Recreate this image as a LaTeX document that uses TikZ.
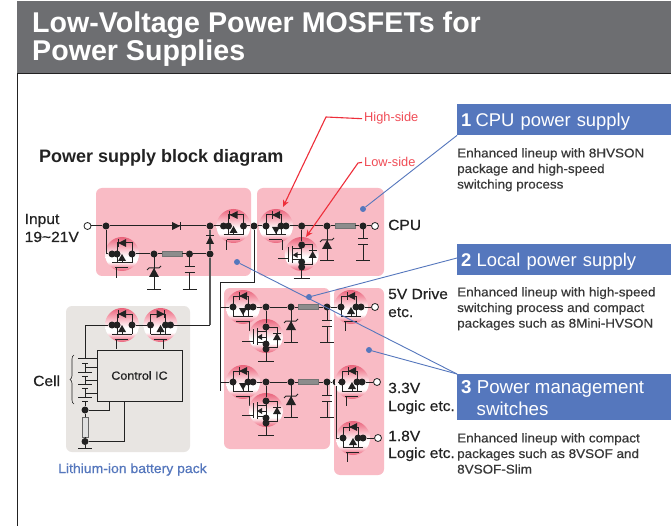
\documentclass[tikz,border=0pt]{standalone}
\usepackage{fontspec}
\setmainfont{Liberation Sans}
\newfontfamily\medfont[FakeBold=0.5,FakeStretch=1.06]{Liberation Sans}
\usetikzlibrary{arrows.meta, decorations.pathreplacing}
\definecolor{ink}{HTML}{222222}
\definecolor{panelpink}{HTML}{F9BBC5}
\definecolor{fetred}{HTML}{E9627A}
\definecolor{fetmid}{HTML}{F6A6B4}
\definecolor{fetpale}{HTML}{FCE0E5}
\definecolor{packgray}{HTML}{E8E5E2}
\definecolor{headgray}{HTML}{6D6E71}
\definecolor{tagblue}{HTML}{5577BD}
\definecolor{sidered}{HTML}{EE2E3A}
\pgfdeclareverticalshading{fetglow}{100bp}{color(0bp)=(fetred); color(25bp)=(fetred); color(32bp)=(fetmid); color(39bp)=(white); color(46bp)=(white); color(52bp)=(fetpale); color(62bp)=(fetmid); color(75bp)=(fetred); color(100bp)=(fetred)}
\tikzset{
  wire/.style={draw=ink, line width=1pt},
  rail/.style={draw=black!65, line width=1.1pt},
  panel/.style={fill=panelpink, rounded corners=6pt},
  dot/.style={circle, fill=ink, inner sep=0pt, minimum size=7pt},
  term/.style={circle, draw=ink, fill=white, line width=0.8pt, inner sep=0pt, minimum size=7pt},
  res/.style={rectangle, draw=black!55, fill=black!45, line width=0.6pt, inner sep=0pt, minimum width=20pt, minimum height=5pt},
  tagdot/.style={circle, fill=tagblue, inner sep=0pt, minimum size=6pt},
  leader/.style={draw=tagblue, line width=0.9pt},
  redline/.style={draw=sidered, line width=1.1pt, -{Stealth[length=7pt,width=6pt]}},
  headbox/.style={rectangle, fill=tagblue, text=white, anchor=north west, inner xsep=4pt, inner ysep=0pt, minimum width=214pt, text width=206pt, align=left},
  lbl/.style={inner sep=0pt, anchor=base west, text=ink, font=\medfont\fontsize{14.7}{18}\selectfont},
  desc/.style={inner sep=0pt, anchor=north west, text=ink!90, align=left, font=\medfont\fontsize{12.7}{15.6}\selectfont},
  % diode pointing right
  pics/dio/.style={code={
    \fill[ink] (-4,-4) -- (-4,4) -- (4,0) -- cycle;
    \draw[wire] (4,-4) -- (4,4);
  }},
  % #1 diode direction, #2 arrow direction, #3 gate leg, #4 side of the double dot
  pics/fet/.style n args={4}{code={
    \shade[shading=fetglow] (0,0) circle (17);
    \draw[wire] (#4*5,9) -- (#4*5,-11) -- (#4*-10,-11) -- (#4*-10,9);
    \fill[ink] (#1*4,-11) -- (#1*-4,-15) -- (#1*-4,-7) -- cycle;
    \draw[wire] (#1*4,-15) -- (#1*4,-7);
    \fill[ink] (0,{4-#2*4}) -- (-4,{4+#2*3}) -- (4,{4+#2*3}) -- cycle;
    \draw[wire] (0,4) -- (0,9);
    \draw[wire] (-10,9) -- (10,9);
    \draw[wire] (-7,14) -- (6,14);
    \draw[wire] (#3,14) -- (#3,24);
    \node[dot] (-w) at (-10,0) {};
    \node[dot] (-e) at (10,0) {};
    \node[dot] (-d) at (#4*5,0) {};
  }},
  pics/fetlow/.style={code={
    \shade[shading=fetglow] (0,0) circle (17);
    \draw[wire] (0,-9) -- (11,-9) -- (11,11) -- (0,11);
    \draw[wire] (0,-9) -- (0,25);
    \draw[wire] (-8,25) -- (8,25);
    \draw[wire] (-9,-8) -- (-9,9);
    \draw[wire] (-9,-5) -- (0,-5);
    \draw[wire] (-9,6) -- (0,6);
    \draw[wire] (-5,1) -- (0,1);
    \fill[ink] (-9,1) -- (-4,-2) -- (-4,4) -- cycle;
    \fill[ink] (11,-3) -- (7,4) -- (15,4) -- cycle;
    \draw[wire] (7,-3) -- (15,-3);
    \draw[wire] (-13,-7) -- (-13,8);
    \draw[wire] (-13,5) -- (-24,5);
    \node[dot] (-t) at (0,-9) {};
    \node[dot] at (0,8) {};
    \node[dot] (-b) at (0,13) {};
  }},
  pics/zenerleg/.style={code={
    \draw[wire] (0,0) -- (0,35);
    \draw[wire] (-7,35) -- (7,35);
    \fill[ink] (0,14) -- (-5,23) -- (5,23) -- cycle;
    \draw[wire] (-7,16) -- (-5,14) -- (5,14) -- (7,12);
  }},
  pics/capleg/.style={code={
    \draw[wire] (0,0) -- (0,13);
    \draw[wire] (-5,13) -- (5,13);
    \draw[wire] (-5,19) -- (5,19);
    \draw[wire] (0,19) -- (0,35);
    \draw[wire] (-7,35) -- (7,35);
  }},
}
\begin{document}
\begin{tikzpicture}[x=1pt, y=-1pt]
    \useasboundingbox (0,0) rectangle (671,526);
    \fill[white] (0,0) rectangle (671,526);

    % Header
    \fill[headgray] (17,1) rectangle (671,73);
    \draw[line width=0.8pt, draw=ink] (17,73) -- (671,73);
    \draw[line width=0.8pt, draw=ink] (17.5,73) -- (17.5,526);
    \node[inner sep=0pt, anchor=base west, text=white, font=\bfseries\fontsize{28.6}{28}\selectfont] (title1) at (32,33) {Low-Voltage Power MOSFETs for};
    \node[inner sep=0pt, anchor=base west, text=white, font=\bfseries\fontsize{28.6}{28}\selectfont] (title2) at (32,61) {Power Supplies};
    \node[inner sep=0pt, anchor=base west, text=ink, font=\bfseries\fontsize{18}{18}\selectfont] (subtitle) at (39,163) {Power supply block diagram};

    % Panels
    \fill[panel] (96,188) rectangle (251,276);
    \fill[panel] (257,188) rectangle (384,276);
    \fill[panel] (224,288) rectangle (330,449);
    \fill[panel] (334,288) rectangle (384,475);
    \fill[packgray, rounded corners=6pt] (66,306) rectangle (190,452);

    % Input stage
    \node[term] (in) at (87.5,226) {};
    \node[dot] (j0) at (106,226) {};
    \node[dot] (j1) at (210,226) {};
    \node[dot] (j2) at (254,226) {};
    \node[dot] (j3) at (154,254) {};
    \node[dot] (j4) at (189.5,254) {};
    \node[dot] (j5) at (210,254) {};
    \node[res] (r0) at (172,254) {};
    \pic (q0) at (122,254) {fet={-1}{1}{-6}{-1}};
    \pic (q1) at (233.5,226) {fet={-1}{1}{-7}{-1}};
    \pic at (154,254) {zenerleg};
    \pic at (189.5,254) {capleg};
    \coordinate (k0) at (106,254);
    \draw[wire] (in) -- (j0) -- (j1) -- (q1-w);
    \draw[wire] (q1-e) -- (j2);
    \draw[wire] (j0) -- (k0) -- (q0-w);
    \draw[wire] (q0-e) -- (j3) -- (r0) -- (j4) -- (j5);
    \draw[rail] (j1) -- (j5);
    \pic[rotate=90] at (210,240) {dio};
    \pic at (176,226) {dio};

    % CPU stage
    \node[dot] (j6) at (301.7,226) {};
    \node[dot] (j7) at (327,226) {};
    \node[dot] (j8) at (363,226) {};
    \node[term] (cpu) at (375,226) {};
    \node[res] (r1) at (345,226) {};
    \pic (q2) at (276,226) {fet={-1}{-1}{6}{1}};
    \pic (q3) at (301.7,254) {fetlow};
    \pic at (327,226) {zenerleg};
    \pic at (363,226) {capleg};
    \draw[wire] (j2) -- (q2-w);
    \draw[wire] (q2-e) -- (j6) -- (j7) -- (r1) -- (j8) -- (cpu);
    \draw[wire] (j6) -- (q3-t);
    \node[lbl] (lcpu) at (388,230) {CPU};

    % Local supply rows
    \coordinate (k1) at (254,283);
    \coordinate (k2) at (220,283);
    \coordinate (k3) at (220,391);
    \draw[wire] (j2) -- (k1) -- (k2) -- (k3);
    \foreach \r/\y/\l/\t in {a/307/336/375, b/382/410/377} {
      \coordinate (s\r) at (220,\y);
      \node[dot] (m\r) at (266,\y) {};
      \node[dot] (n\r) at (291,\y) {};
      \node[dot] (c\r) at (327,\y) {};
      \node[res] (r\r) at (308.5,\y) {};
      \node[term] (o\r) at (\t,\y) {};
      \pic (h\r) at (243,\y) {fet={-1}{-1}{6}{1}};
      \pic (l\r) at (266,\l) {fetlow};
      \pic at (291,\y) {zenerleg};
      \pic at (327,\y) {capleg};
      \draw[wire] (s\r) -- (h\r-w);
      \draw[wire] (h\r-e) -- (m\r) -- (n\r) -- (r\r) -- (c\r);
      \draw[wire] (m\r) -- (l\r-t);
    }

    % Output switches
    \node[dot] (j9) at (336,382) {};
    \pic (da) at (351,307) {fet={-1}{1}{-6}{1}};
    \pic (db) at (352,382) {fet={-1}{1}{-6}{1}};
    \pic (dc) at (353,438) {fet={-1}{1}{-6}{1}};
    \node[term] (oc) at (378,438) {};
    \coordinate (k4) at (336,438);
    \draw[wire] (ca) -- (da-w);
    \draw[wire] (da-e) -- (oa);
    \draw[wire] (cb) -- (j9) -- (db-w);
    \draw[wire] (db-e) -- (ob);
    \draw[wire] (j9) -- (k4) -- (dc-w);
    \draw[wire] (dc-e) -- (oc);

    % Battery pack
    \node[rectangle, draw=ink, line width=1pt, fill=packgray, text=ink, inner sep=0pt, minimum width=85pt, minimum height=51pt, font=\medfont\fontsize{11.8}{14}\selectfont] (ic) at (139.5,375.5) {Control IC};
    \pic (qa) at (122,325) {fet={-1}{1}{-6}{-1}};
    \pic (qb) at (160.5,325) {fet={1}{1}{3}{1}};
    \coordinate (k5) at (85,325);
    \coordinate (k6) at (85,358);
    \coordinate (k7) at (210,325);
    \draw[wire] (k6) -- (k5) -- (qa-w);
    \draw[wire] (qa-e) -- (qb-w);
    \draw[wire] (qb-e) -- (k7);
    \draw[rail] (j5) -- (k7);
    \foreach \y in {358, 367, 380, 393} {
      \draw[wire] (85,\y) -- (97,\y);
    }
    \foreach \a/\b in {358/363, 372/376, 384/388, 397/401} {
      \draw[wire] (78,\a) -- (92,\a);
      \draw[wire] (82,\b) -- (88,\b);
    }
    \foreach \a/\b in {363/372, 376/384, 388/397} {
      \draw[wire] (85,\a) -- (85,\b);
    }
    \node[dot] (b0) at (85,410) {};
    \node[dot] (b1) at (85,441.5) {};
    \coordinate (b2) at (85,401);
    \coordinate (b3) at (85,448);
    \node[rectangle, draw=black!60, fill=black!12, line width=0.7pt, inner sep=0pt, minimum width=6pt, minimum height=20pt] (r2) at (85,427) {};
    \draw[wire] (b2) -- (b0) -- (r2) -- (b1) -- (b3);
    \draw[wire] (78,448) -- (92,448);
    \draw[wire] (b0) -| (109,401);
    \draw[wire] (b1) -| (124,401);
    \draw[ink, line width=0.6pt, decorate, decoration={brace, amplitude=4pt}] (74,404) -- (74,355);

    % Labels
    \node[lbl] (input1) at (24.5,224) {Input};
    \node[lbl] (input2) at (24.5,242) {19\textasciitilde21V};
    \node[lbl] (cell) at (33,386) {Cell};
    \node[lbl] (l5a) at (388,299) {5V Drive};
    \node[lbl] (l5b) at (388,317) {etc.};
    \node[lbl] (l3a) at (388,393) {3.3V};
    \node[lbl] (l3b) at (388,411) {Logic etc.};
    \node[lbl] (l1a) at (388,441) {1.8V};
    \node[lbl] (l1b) at (388,458) {Logic etc.};
    \node[lbl, text=tagblue, font=\medfont\fontsize{13.2}{16}\selectfont] (pack) at (58,473) {Lithium-ion battery pack};

    % Blue boxes
    \node[headbox, minimum height=31pt, text depth=0pt, font=\fontsize{18.4}{22}\selectfont] (b1x) at (457,104) {{\bfseries 1}\hspace{-2pt} CPU power supply};
    \node[headbox, minimum height=31pt, text depth=0pt, font=\fontsize{18.4}{22}\selectfont] (b2x) at (457,244) {{\bfseries 2}\hspace{-1pt} Local power supply};
    \node[headbox, minimum height=46pt] (b3x) at (457,374) {};
    \node[inner sep=0pt, anchor=north west, text=white, align=left, font=\fontsize{18.7}{22}\selectfont] (b3t) at (461,380.5) {{\bfseries 3} Power management\\\hspace*{15.5pt}switches};
    \node[desc] (d1) at (457,148) {Enhanced lineup with 8HVSON\\package and high-speed\\switching process};
    \node[desc] (d2) at (457,287) {Enhanced lineup with high-speed\\switching process and compact\\packages such as 8Mini-HVSON};
    \node[desc] (d3) at (457,433) {Enhanced lineup with compact\\packages such as 8VSOF and\\8VSOF-Slim};

    % Leaders
    \node[tagdot] (t1) at (363,209) {};
    \node[tagdot] (t2) at (309,297) {};
    \node[tagdot] (t3) at (369,350) {};
    \node[tagdot] (t4) at (237,262) {};
    \coordinate (c2) at (457,258);
    \draw[leader] (t1) -- (b1x.south west);
    \draw[leader] (t2) -- (c2);
    \draw[leader] (t3) -- (b3x.north west);
    \draw[leader] (t4) -- (b3x.north west);

    % Red call-outs
    \node[inner sep=0pt, anchor=base west, text=sidered!85, font=\fontsize{12.8}{14}\selectfont] (hi) at (364,122) {High-side};
    \node[inner sep=0pt, anchor=base west, text=sidered!85, font=\fontsize{12.8}{14}\selectfont] (lo) at (364,167) {Low-side};
    \coordinate (e1) at (326,117);
    \coordinate (e2) at (358,163);
    \coordinate (a1) at (283,207);
    \coordinate (a2) at (306,237);
    \draw[redline] ([xshift=-2pt]hi.west) -- (e1) -- (a1);
    \draw[redline] ([xshift=-2pt]lo.west) -- (e2) -- (a2);
\end{tikzpicture}
\end{document}
